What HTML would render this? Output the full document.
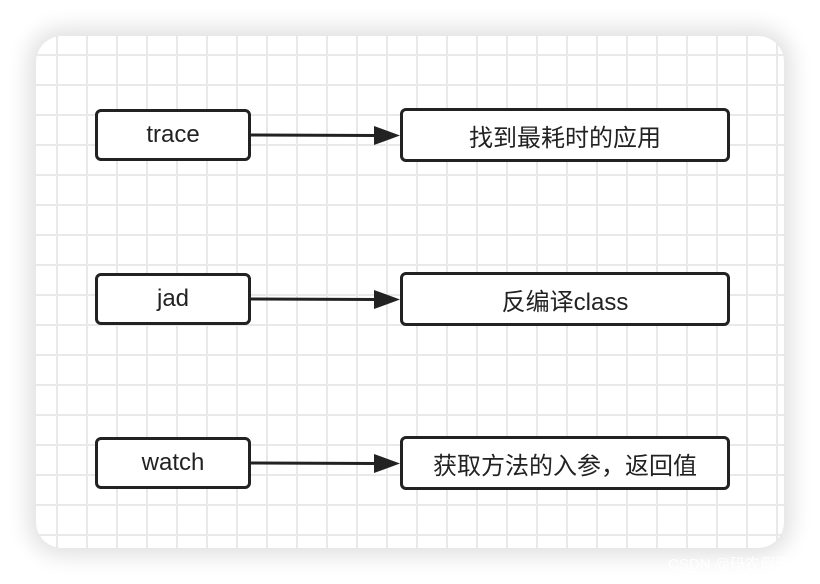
<!DOCTYPE html>
<html><head><meta charset="utf-8"><style>
html,body{margin:0;padding:0;}
body{width:820px;height:584px;background:#fff;position:relative;overflow:hidden;font-family:"Liberation Sans","Noto Sans CJK SC",sans-serif;}
.card{position:absolute;left:36px;top:36px;width:748px;height:512px;border-radius:26px;background-color:#fff;
background-image:linear-gradient(to right,#e9e9e9 2px,transparent 2px),linear-gradient(to bottom,#e9e9e9 2px,transparent 2px);
background-size:30px 30px;background-position:20px 18px;box-shadow:0 0 22px 8px rgba(0,0,0,0.12);}
.box{position:absolute;border:3px solid #222;border-radius:6px;background:#fff;box-sizing:border-box;display:flex;align-items:center;justify-content:center;font-size:24px;color:#222;}
.wm{position:absolute;left:668px;top:553px;font-size:15px;color:rgba(255,255,255,0.9);}
</style></head><body>
<div class="card"></div>
<div class="box" style="left:95px;top:109px;width:156px;height:52px;">trace</div>
<div class="box" style="left:400px;top:108px;width:330px;height:54px;">找到最耗时的应用</div>
<div class="box" style="left:95px;top:273px;width:156px;height:52px;">jad</div>
<div class="box" style="left:400px;top:272px;width:330px;height:54px;">反编译class</div>
<div class="box" style="left:95px;top:437px;width:156px;height:52px;">watch</div>
<div class="box" style="left:400px;top:436px;width:330px;height:54px;">获取方法的入参，返回值</div>
<svg width="820" height="584" style="position:absolute;left:0;top:0">
<g stroke="#222" stroke-width="3" fill="#222">
<line x1="251" y1="135" x2="376" y2="135.5"/><polygon points="400,135.5 374,126 374,145" stroke="none"/>
<line x1="251" y1="299" x2="376" y2="299.5"/><polygon points="400,299.5 374,290 374,309" stroke="none"/>
<line x1="251" y1="463" x2="376" y2="463.5"/><polygon points="400,463.5 374,454 374,473" stroke="none"/>
</g></svg>
<div class="wm">CSDN @码农假哥</div>
</body></html>
